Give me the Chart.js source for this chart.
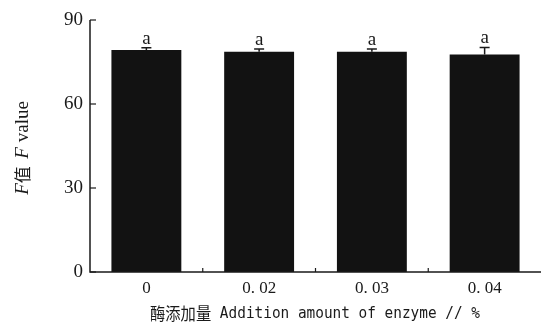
<!DOCTYPE html>
<html>
<head>
<meta charset="utf-8">
<script src="https://cdn.jsdelivr.net/npm/chart.js@4.4.1/dist/chart.umd.min.js"></script>
<style>
  html, body { margin: 0; padding: 0; background: #fff; }
  #wrap { width: 541px; height: 323px; }
</style>
</head>
<body>
<div id="wrap"><canvas id="c"></canvas></div>
<script>
// données
const categories = ['0', '0. 02', '0. 03', '0. 04'];
const fValues = [79.3, 78.7, 78.7, 77.7];
const fErrors = [0.8, 0.9, 0.9, 2.5];
const sigLetters = ['a', 'a', 'a', 'a'];
const yTicks = [0, 30, 60, 90];

const ink = '#1a1a1a';

// barres d'erreur, lettres, traits d'axes vers l'intérieur, titres
const decorPlugin = {
    id: 'decor',
    afterDatasetsDraw(chart) {
        const { ctx, chartArea } = chart;
        const x = chart.scales.x;
        const y = chart.scales.y;
        ctx.save();
        ctx.strokeStyle = ink;
        ctx.fillStyle = ink;

        // barres d'erreur
        ctx.lineWidth = 1.5;
        fValues.forEach((v, i) => {
            const cx = x.getPixelForValue(i);
            const yTop = y.getPixelForValue(v + fErrors[i]);
            const yBar = y.getPixelForValue(v);
            ctx.beginPath();
            ctx.moveTo(cx, yBar);
            ctx.lineTo(cx, yTop);
            ctx.moveTo(cx - 5, yTop);
            ctx.lineTo(cx + 5, yTop);
            ctx.stroke();

            ctx.font = '19px "Liberation Serif"';
            ctx.textAlign = 'center';
            ctx.textBaseline = 'alphabetic';
            ctx.fillText(sigLetters[i], cx, yTop - 4);
        });

        // axes
        ctx.lineWidth = 1.5;
        ctx.beginPath();
        ctx.moveTo(chartArea.left, chartArea.top);
        ctx.lineTo(chartArea.left, chartArea.bottom);
        ctx.lineTo(chartArea.right, chartArea.bottom);
        ctx.stroke();

        // petits traits vers l'intérieur
        ctx.lineWidth = 1.2;
        yTicks.forEach(t => {
            const py = y.getPixelForValue(t);
            ctx.beginPath();
            ctx.moveTo(chartArea.left, py);
            ctx.lineTo(chartArea.left + 6, py);
            ctx.stroke();
        });
        for (let i = 1; i < categories.length; i++) {
            const px = (x.getPixelForValue(i - 1) + x.getPixelForValue(i)) / 2;
            ctx.beginPath();
            ctx.moveTo(px, chartArea.bottom);
            ctx.lineTo(px, chartArea.bottom - 4);
            ctx.stroke();
        }

        // titre de l'axe x (police étroite : on comprime horizontalement)
        ctx.save();
        ctx.textBaseline = 'middle';
        ctx.textAlign = 'left';
        const sx = 0.9;
        const parts = [
            ['17px "Noto Sans CJK SC"', '酶添加量'],
            ['16px "DejaVu Sans Mono"', ' Addition amount of enzyme // %']
        ];
        ctx.translate(150, 314);
        ctx.scale(sx, 1);
        let px = 0;
        parts.forEach(([f, t]) => {
            ctx.font = f;
            ctx.fillText(t, px, 0);
            px += ctx.measureText(t).width;
        });
        ctx.restore();

        // titre de l'axe y
        ctx.translate(23, 148);
        ctx.rotate(-Math.PI / 2);
        ctx.textBaseline = 'middle';
        ctx.textAlign = 'left';
        const yParts = [
            ['italic 19px "Liberation Serif"', 'F'],
            ['17px "Noto Sans CJK SC"', '值  '],
            ['italic 19px "Liberation Serif"', 'F'],
            ['19px "Liberation Serif"', ' value']
        ];
        let w = 0;
        yParts.forEach(([f, t]) => { ctx.font = f; w += ctx.measureText(t).width; });
        px = -w / 2;
        yParts.forEach(([f, t]) => {
            ctx.font = f;
            ctx.fillText(t, px, 0);
            px += ctx.measureText(t).width;
        });
        ctx.restore();
    }
};

new Chart(document.getElementById('c').getContext('2d'), {
    type: 'bar',
    data: {
        labels: categories,
        datasets: [{
            data: fValues,
            backgroundColor: '#121212',
            borderWidth: 0,
            categoryPercentage: 1,
            barPercentage: 0.62
        }]
    },
    options: {
        responsive: true,
        maintainAspectRatio: false,
        animation: false,
        layout: { padding: { top: 20, right: 0, left: 0, bottom: 0 } },
        plugins: {
            legend: { display: false },
            tooltip: { enabled: false }
        },
        scales: {
            y: {
                min: 0,
                max: 90,
                afterFit(scale) { scale.width = 90; },
                afterBuildTicks(scale) { scale.ticks = yTicks.map(v => ({ value: v })); },
                border: { display: false },
                grid: { display: false, drawTicks: false },
                ticks: {
                    color: ink,
                    padding: 7,
                    font: { family: '"Liberation Serif"', size: 19 }
                }
            },
            x: {
                afterFit(scale) { scale.height = 51; },
                border: { display: false },
                grid: { display: false, drawTicks: false },
                ticks: {
                    color: ink,
                    padding: 6,
                    font: { family: '"Liberation Serif"', size: 17 }
                }
            }
        }
    },
    plugins: [decorPlugin]
});
</script>
</body>
</html>
